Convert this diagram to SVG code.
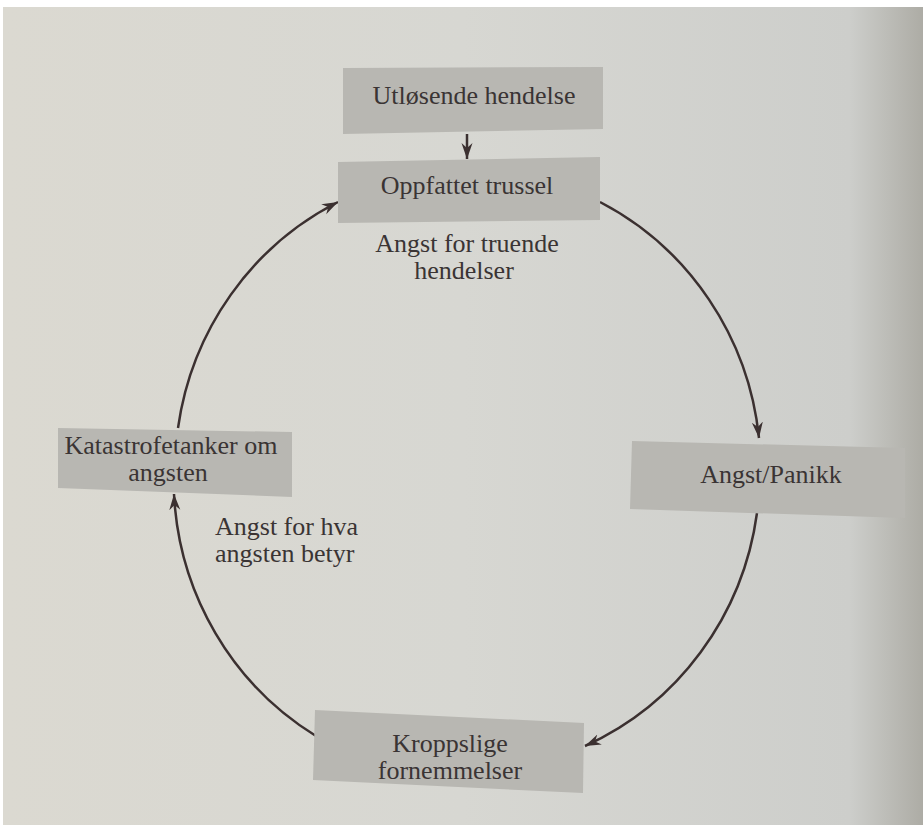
<svg xmlns="http://www.w3.org/2000/svg" width="923" height="825" viewBox="0 0 923 825">
  <defs>
    <linearGradient id="paper" x1="0" y1="0" x2="1" y2="0">
      <stop offset="0" stop-color="#dbd9d1"/>
      <stop offset="0.5" stop-color="#d7d7d2"/>
      <stop offset="0.92" stop-color="#cdcecb"/>
      <stop offset="1" stop-color="#adaca5"/>
    </linearGradient>
    <marker id="arr" markerUnits="userSpaceOnUse" markerWidth="18" markerHeight="12" refX="16" refY="5.5" orient="auto">
      <path d="M0,0 L16,5.5 L0,11 L5,5.5 Z" fill="#3b3030"/>
    </marker>
    <style>
      .box { fill: #b8b7b2; }
      .t { font-family: "Liberation Serif", "DejaVu Serif", serif; font-size: 26px; fill: #3a3434; text-anchor: middle; }
      .lbl { font-family: "Liberation Serif", "DejaVu Serif", serif; font-size: 26px; fill: #3a3434; }
      .c { fill: none; stroke: #3b3030; stroke-width: 2.5; marker-end: url(#arr); }
    </style>
  </defs>
  <rect width="923" height="825" fill="#ffffff"/>
  <rect x="3" y="7" width="920" height="818" fill="url(#paper)"/>

  <g id="connectors">
    <path class="c" d="M467,134 L467,159"/>
    <path class="c" d="M600,202 A294,300 0 0 1 759,438"/>
    <path class="c" d="M757,513 A294,300 0 0 1 585,746"/>
    <path class="c" d="M316,736 A294,300 0 0 1 174,494"/>
    <path class="c" d="M178,428 A294,300 0 0 1 338,202"/>
  </g>

  <g id="utlosende">
    <polygon class="box" points="343,68 603,67 603,129 343,134"/>
    <text class="t" x="474" y="104">Utløsende hendelse</text>
  </g>

  <g id="oppfattet">
    <polygon class="box" points="338,162 600,157 600,220 338,223"/>
    <text class="t" x="467" y="194">Oppfattet trussel</text>
  </g>

  <g id="label-truende">
    <text class="t" x="467" y="252">Angst for truende</text>
    <text class="t" x="464" y="279">hendelser</text>
  </g>

  <g id="angst-panikk">
    <polygon class="box" points="632,441 905,448 905,518 630,509"/>
    <text class="t" x="771" y="483">Angst/Panikk</text>
  </g>

  <g id="kroppslige">
    <polygon class="box" points="315,710 584,723 583,793 313,780"/>
    <text class="t" x="450" y="752">Kroppslige</text>
    <text class="t" x="450" y="779">fornemmelser</text>
  </g>

  <g id="katastrofe">
    <polygon class="box" points="58,428 292,432 292,497 58,488"/>
    <text class="t" x="171" y="454">Katastrofetanker om</text>
    <text class="t" x="168" y="481">angsten</text>
  </g>

  <g id="label-hva">
    <text class="lbl" x="215" y="535">Angst for hva</text>
    <text class="lbl" x="215" y="562">angsten betyr</text>
  </g>
</svg>
